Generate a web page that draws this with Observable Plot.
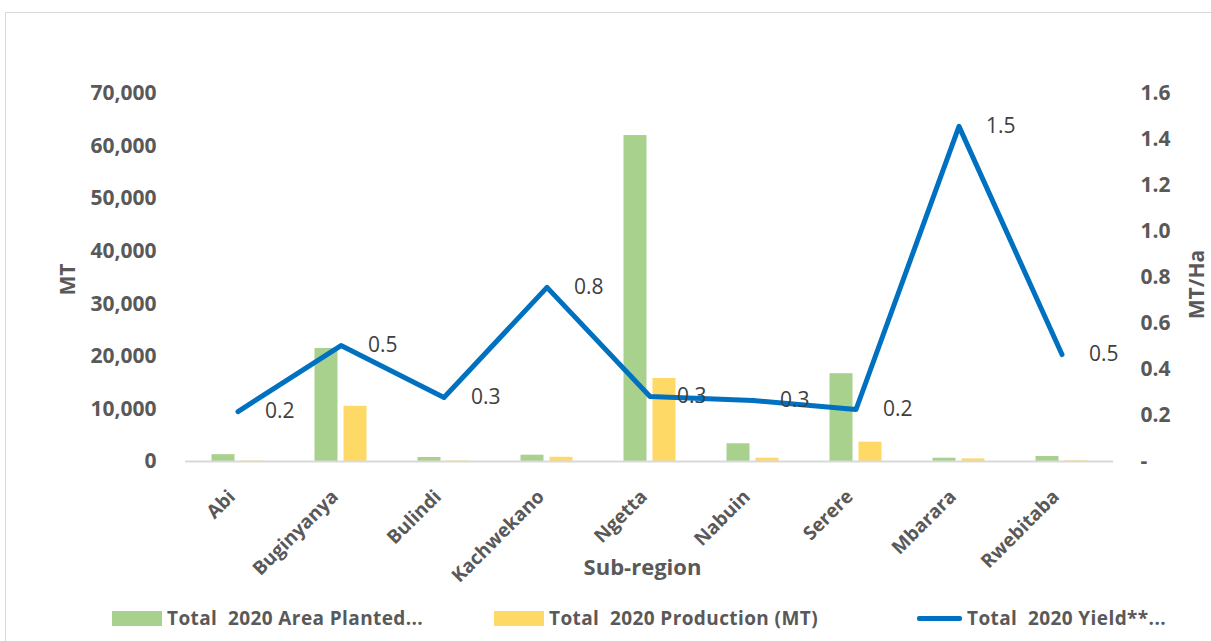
<!DOCTYPE html>
<html><head><meta charset="utf-8">
<script src="https://cdn.jsdelivr.net/npm/d3@7"></script>
<script src="https://cdn.jsdelivr.net/npm/@observablehq/plot@0.6"></script>
<style>
body{margin:0;background:#fff;font-family:"Open Sans",sans-serif;}
#wrap{position:relative;width:1211px;height:641px;overflow:hidden;background:#fff;}
#frame{position:absolute;left:5px;top:12px;width:1300px;height:700px;border:1.5px solid #d9d9d9;box-sizing:border-box;pointer-events:none;}
#chart svg{display:block;}
#legend{position:relative;height:41px;font-weight:bold;font-size:19px;letter-spacing:0.4px;color:#595959;}
.item{position:absolute;top:0;height:36px;display:flex;align-items:center;white-space:nowrap;}
.sw{display:inline-block;width:50px;height:15px;margin-right:5px;}
.ln{display:inline-block;width:45px;height:5px;margin-right:5px;border-radius:2px;}
</style></head><body>
<div id="wrap"><div id="frame"></div><div id="chart"></div>
<div id="legend">
  <div class="item" style="left:112px"><span class="sw" style="background:#A9D18E"></span>Total&nbsp; 2020 Area Planted...</div>
  <div class="item" style="left:494px"><span class="sw" style="background:#FFD966"></span>Total&nbsp; 2020 Production (MT)</div>
  <div class="item" style="left:917px"><span class="ln" style="background:#0070C0"></span>Total&nbsp; 2020 Yield**...</div>
</div></div>
<script>
const subRegions = ["Abi","Buginyanya","Bulindi","Kachwekano","Ngetta","Nabuin","Serere","Mbarara","Rwebitaba"];
const areaPlanted = [1300, 21500, 760, 1200, 62000, 3370, 16700, 630, 950];
const production = [100, 10500, 100, 800, 15800, 630, 3670, 500, 120];
const yieldMTHa = [0.217, 0.504, 0.278, 0.757, 0.283, 0.265, 0.226, 1.457, 0.465];
const yieldLabels = ["0.2","0.5","0.3","0.8","0.3","0.3","0.2","1.5","0.5"];
const leftTicks = [0,10000,20000,30000,40000,50000,60000,70000];
const rightTicks = [0,0.2,0.4,0.6,0.8,1.0,1.2,1.4,1.6];

const K = 70000/1.6;
const rows = subRegions.map((s,i)=>({s, area: areaPlanted[i], prod: production[i], yld: yieldMTHa[i]*K, lab: yieldLabels[i]}));
const gray = "#595959";
const font = "Open Sans";

const chart = Plot.plot({
  width: 1211, height: 600,
  marginTop: 93, marginBottom: 139, marginLeft: 185, marginRight: 98,
  style: {fontFamily: font, background: "transparent"},
  x: {type: "band", domain: subRegions, paddingInner: 0.777, paddingOuter: 0.3885, align: 0.5},
  y: {domain: [0, 70000]},
  marks: [
    Plot.barY(rows, {x: "s", y: "area", fill: "#A9D18E", dx: -14.5}),
    Plot.barY(rows, {x: "s", y: "prod", fill: "#FFD966", dx: 14.5}),
    Plot.ruleY([0], {stroke: "#d9d9d9", strokeWidth: 2}),
    Plot.line(rows, {x: "s", y: "yld", stroke: "#0070C0", strokeWidth: 5, strokeLinejoin: "round"}),
    Plot.text(rows, {x: "s", y: "yld", text: "lab", dx: 27, textAnchor: "start", fill: "#404040", fontSize: 21, fontFamily: font}),
    Plot.axisY({anchor: "left", ticks: leftTicks, tickFormat: d3.format(","), tickSize: 0, tickPadding: 29, label: null, fontSize: 21, fontWeight: "bold", fill: gray, fontFamily: font}),
    Plot.axisY({anchor: "right", ticks: rightTicks.map(v=>v*K), tickFormat: d => d===0 ? "-" : (d/K).toFixed(1), tickSize: 0, tickPadding: 27, label: null, fontSize: 21, fontWeight: "bold", fill: gray, fontFamily: font}),
    Plot.axisX({tickRotate: -45, tickSize: 0, tickPadding: 32, dx: -6, label: null, fontSize: 19, fontWeight: "bold", fill: gray, fontFamily: font}),
    Plot.text(["MT"], {frameAnchor: "left", textAnchor: "middle", dx: -117, dy: 2, rotate: -90, fontSize: 21, fontWeight: "bold", fill: gray, fontFamily: font}),
    Plot.text(["MT/Ha"], {frameAnchor: "right", textAnchor: "middle", dx: 84, dy: 7, rotate: -90, fontSize: 21, fontWeight: "bold", fill: gray, fontFamily: font}),
    Plot.text(["Sub-region"], {frameAnchor: "bottom", lineAnchor: "middle", dx: -7, dy: 106, fontSize: 22, fontWeight: "bold", fill: gray, fontFamily: font})
  ]
});
document.getElementById("chart").appendChild(chart);
</script></body></html>
